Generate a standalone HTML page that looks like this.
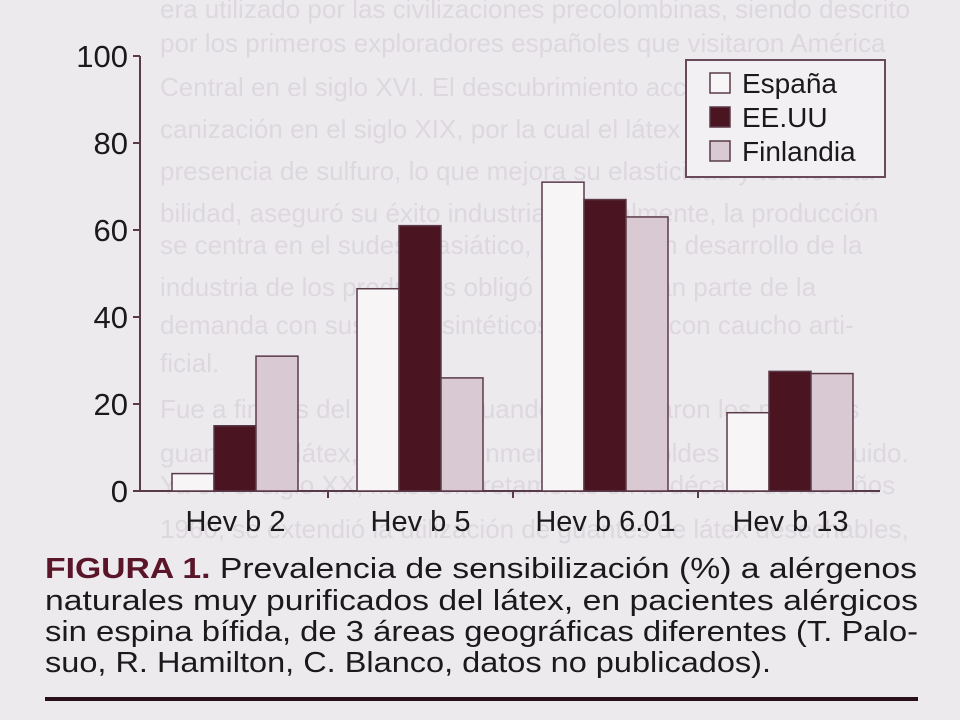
<!DOCTYPE html>
<html><head><meta charset="utf-8"><style>
html,body{margin:0;padding:0;background:#edeaee;}
svg{display:block;}
</style></head><body>
<svg id="chart" width="960" height="720" viewBox="0 0 960 720" xmlns="http://www.w3.org/2000/svg">
<rect x="0" y="0" width="960" height="720" fill="#edeaee"/>
<g id="bleed" fill="#dcd8de" font-family="Liberation Sans, sans-serif" font-size="26">
<text x="160" y="18">era utilizado por las civilizaciones precolombinas, siendo descrito</text>
<text x="160" y="52">por los primeros exploradores españoles que visitaron América</text>
<text x="160" y="96">Central en el siglo XVI. El descubrimiento accidental de la vul-</text>
<text x="160" y="138">canización en el siglo XIX, por la cual el látex es calentado en</text>
<text x="160" y="180">presencia de sulfuro, lo que mejora su elasticidad y termoesta-</text>
<text x="160" y="222">bilidad, aseguró su éxito industrial. Actualmente, la producción</text>
<text x="160" y="254">se centra en el sudeste asiático, pero el gran desarrollo de la</text>
<text x="160" y="296">industria de los productos obligó a cubrir gran parte de la</text>
<text x="160" y="334">demanda con sustitutos sintéticos, es decir, con caucho arti-</text>
<text x="160" y="372">ficial.</text>
<text x="160" y="418">Fue a finales del siglo XIX cuando se fabricaron los primeros</text>
<text x="160" y="462">guantes de látex, mediante inmersión de moldes en látex líquido.</text>
<text x="160" y="494">Ya en el siglo XX, más concretamente en la década de los años</text>
<text x="160" y="538">1960, se extendió la utilización de guantes de látex desechables,</text>
</g>
<g id="axes"></g>
<g id="bars"></g>
<g id="legend">
<rect x="686" y="60" width="199" height="117" fill="#f3f0f3" stroke="#6a4a5a" stroke-width="2"/>
</g>
<g id="caption" font-family="Liberation Sans, sans-serif" font-size="29" fill="#1a1a1a">
<text x="45" y="578" textLength="872" lengthAdjust="spacingAndGlyphs"><tspan font-weight="bold" fill="#5a1528">FIGURA 1.</tspan> Prevalencia de sensibilización (%) a alérgenos</text>
<text x="45" y="610" textLength="873" lengthAdjust="spacingAndGlyphs">naturales muy purificados del látex, en pacientes alérgicos</text>
<text x="45" y="641" textLength="873" lengthAdjust="spacingAndGlyphs">sin espina bífida, de 3 áreas geográficas diferentes (T. Palo-</text>
<text x="45" y="672" textLength="726" lengthAdjust="spacingAndGlyphs">suo, R. Hamilton, C. Blanco, datos no publicados).</text>
</g>
<rect x="45" y="697" width="873" height="4" fill="#2a1018"/>
</svg>
<script>
const categories = ["Hev b 2", "Hev b 5", "Hev b 6.01", "Hev b 13"];
const seriesNames = ["España", "EE.UU", "Finlandia"];
const espana = [4, 46.5, 71, 18];
const eeuu = [15, 61, 67, 27.5];
const finlandia = [31, 26, 63, 27];
const yTicks = [0, 20, 40, 60, 80, 100];

const NS = "http://www.w3.org/2000/svg";
const X0 = 140, X1 = 880, Y0 = 491, Y100 = 56;
const fills = ["#f8f5f7", "#4a1420", "#d9c9d2"];
const strokeC = "#5a3a48";
function yScale(v){ return Y0 - (v/100)*(Y0 - Y100); }
const groupW = (X1 - X0) / categories.length;
function xGroup(i){ return X0 + groupW*i; }
const barW = 42;
function xBar(i, s){ return xGroup(i) + 32 + s*barW; }
function mk(tag, attrs, parent){
  const e = document.createElementNS(NS, tag);
  for (const k in attrs) e.setAttribute(k, attrs[k]);
  parent.appendChild(e); return e;
}
const axes = document.getElementById('axes');
const bars = document.getElementById('bars');
const legend = document.getElementById('legend');
const series = [espana, eeuu, finlandia];

series.forEach((vals, s) => {
  vals.forEach((v, i) => {
    const r = mk('rect', {x: xBar(i,s), y: yScale(v), width: barW, height: Y0 - yScale(v), fill: fills[s], stroke: strokeC, 'stroke-width': 1.5}, bars);
    
    
  });
});

const yl = mk('line', {x1: X0, y1: Y100, x2: X0, y2: Y0, stroke: strokeC, 'stroke-width': 2}, axes);


const xl = mk('line', {x1: X0, y1: Y0, x2: X1, y2: Y0, stroke: strokeC, 'stroke-width': 2}, axes);



yTicks.forEach(t => {
  const tk = mk('line', {x1: X0-7, y1: yScale(t), x2: X0, y2: yScale(t), stroke: strokeC, 'stroke-width': 2}, axes);
  
  
  const lb = mk('text', {x: X0-12, y: yScale(t)+11, 'text-anchor': 'end', 'font-family': 'Liberation Sans, sans-serif', 'font-size': 31, fill: '#1a1a1a'}, axes);
  lb.textContent = t;
  
  
});
for (let i = 1; i < categories.length; i++) {
  const tk = mk('line', {x1: xGroup(i)+3, y1: Y0, x2: xGroup(i)+3, y2: Y0+7, stroke: strokeC, 'stroke-width': 2}, axes);
  
  
}
categories.forEach((c, i) => {
  const lb = mk('text', {x: xGroup(i)+groupW/2+3, y: 531, 'text-anchor': 'middle', 'font-family': 'Liberation Sans, sans-serif', 'font-size': 29, fill: '#1a1a1a'}, axes);
  lb.textContent = c;
  
  
});

seriesNames.forEach((n, s) => {
  const y = 73 + s*34;
  const sw = mk('rect', {x: 710, y: y, width: 20, height: 20, fill: fills[s], stroke: strokeC, 'stroke-width': 1.5}, legend);
  
  
  const lb = mk('text', {x: 742, y: y+20, 'font-family': 'Liberation Sans, sans-serif', 'font-size': 28, fill: '#1a1a1a'}, legend);
  lb.textContent = n;
  
  
});
</script>
</body></html>
